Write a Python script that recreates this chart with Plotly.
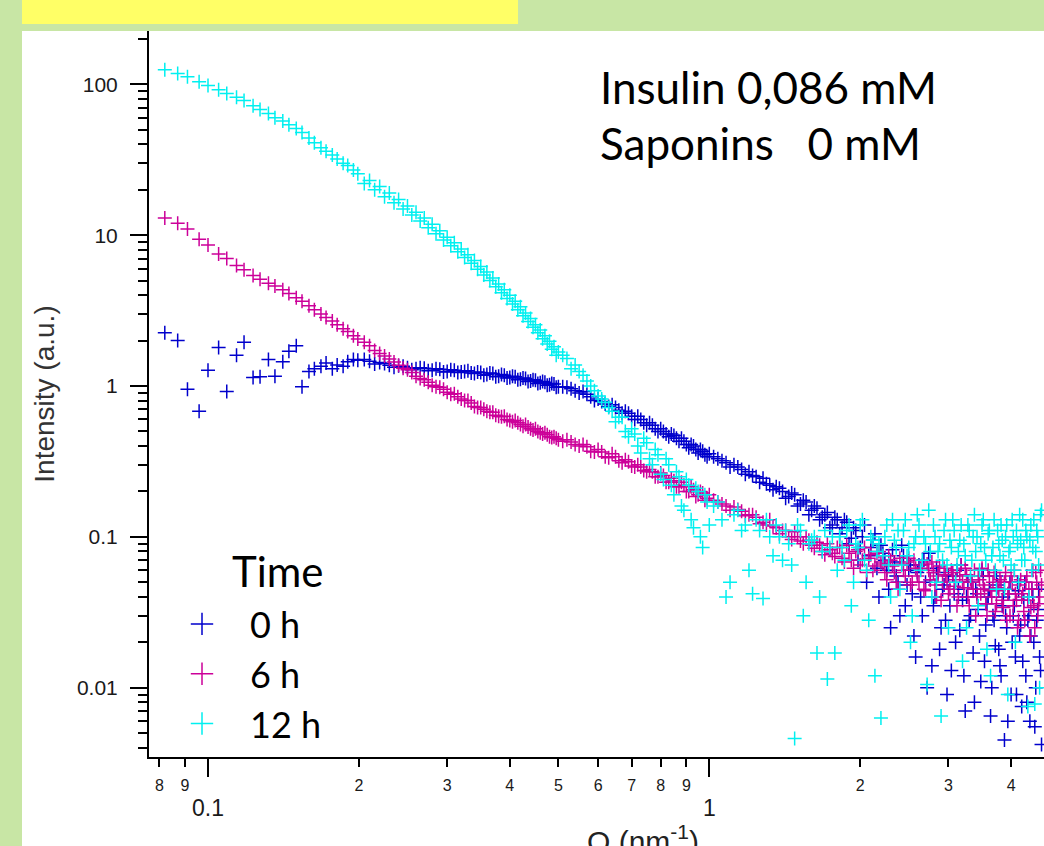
import plotly.graph_objects as go

# ---------------- data ----------------
q_nm = [
    0.082, 0.087, 0.091, 0.096, 0.100, 0.105, 0.109, 0.114, 0.118, 0.123,
    0.127, 0.132, 0.136, 0.141, 0.145, 0.150, 0.154, 0.159, 0.163, 0.168,
    0.172, 0.177, 0.181, 0.186, 0.190, 0.195, 0.199,
    0.21, 0.22, 0.23, 0.24, 0.25, 0.26, 0.27, 0.28, 0.29, 0.30,
    0.31, 0.32, 0.33, 0.34, 0.35, 0.36, 0.37, 0.38, 0.39, 0.40,
    0.41, 0.42, 0.43, 0.44, 0.45, 0.46, 0.47, 0.48, 0.49, 0.50,
    0.52, 0.54, 0.56, 0.58, 0.60, 0.62, 0.64, 0.66, 0.68, 0.70,
    0.72, 0.74, 0.76, 0.78, 0.80, 0.82, 0.84, 0.86, 0.88, 0.90,
    0.92, 0.94, 0.96, 0.98, 1.00,
    1.04, 1.08, 1.12, 1.16, 1.20, 1.24, 1.28, 1.32, 1.36, 1.40,
    1.44, 1.48, 1.52, 1.56, 1.60, 1.64, 1.68, 1.72, 1.76, 1.80,
    1.84, 1.88, 1.92, 1.96, 2.00, 2.04, 2.08, 2.12, 2.16, 2.20,
    2.24, 2.28, 2.32, 2.36, 2.40, 2.44, 2.48, 2.52, 2.56, 2.60,
    2.64, 2.68, 2.72, 2.76, 2.80, 2.84, 2.88, 2.92, 2.96, 3.00,
    3.04, 3.08, 3.12, 3.16, 3.20, 3.24, 3.28, 3.32, 3.36, 3.40,
    3.44, 3.48, 3.52, 3.56, 3.60, 3.64, 3.68, 3.72, 3.76, 3.80,
    3.84, 3.88, 3.92, 3.96, 4.00, 4.04, 4.08, 4.12, 4.16, 4.20,
    4.24, 4.28, 4.32, 4.36, 4.40, 4.44, 4.48, 4.52, 4.56, 4.60,
]

i_0h = [
    2.25, 2.0, 0.95, 0.68, 1.27, 1.8, 0.92, 1.6, 1.95, 1.14,
    1.15, 1.5, 1.16, 1.45, 1.7, 1.85, 0.99, 1.25, 1.3, 1.35,
    1.42, 1.3, 1.38, 1.35, 1.45, 1.5, 1.48,
    1.46, 1.43, 1.37, 1.36, 1.32, 1.30, 1.31, 1.27, 1.29, 1.25,
    1.27, 1.24, 1.26, 1.21, 1.23, 1.19, 1.21, 1.16, 1.18, 1.14,
    1.15, 1.11, 1.12, 1.08, 1.09, 1.05, 1.06, 1.02, 1.03, 0.99,
    0.98, 0.93, 0.92, 0.85, 0.82, 0.76, 0.75, 0.69, 0.68, 0.63,
    0.63, 0.57, 0.57, 0.52, 0.52, 0.48, 0.48, 0.45, 0.45, 0.41,
    0.41, 0.38, 0.38, 0.35, 0.355,
    0.33, 0.31, 0.30, 0.28, 0.27, 0.25, 0.245, 0.22, 0.215, 0.20,
    0.185, 0.19, 0.165, 0.17, 0.15, 0.155, 0.135, 0.145, 0.12, 0.13,
    0.115, 0.125, 0.098, 0.11, 0.085, 0.12, 0.075, 0.095, 0.062, 0.088,
    0.07, 0.045, 0.082, 0.055, 0.03, 0.075, 0.048, 0.065, 0.022, 0.058,
    0.04, 0.07, 0.01, 0.052, 0.035, 0.062, 0.018, 0.045, 0.028, 0.055,
    0.013, 0.042, 0.06, 0.024, 0.038, 0.007, 0.05, 0.03, 0.017, 0.045,
    0.033, 0.011, 0.055, 0.026, 0.04, 0.0065, 0.03, 0.019, 0.048, 0.014,
    0.035, 0.0045, 0.025, 0.042, 0.009, 0.03, 0.016, 0.05, 0.022, 0.0075,
    0.038, 0.012, 0.028, 0.006, 0.045, 0.02, 0.01, 0.033, 0.016, 0.0042,
]

i_6h = [
    13.0, 12.0, 11.0, 9.4, 8.6, 7.5, 7.0, 6.3, 5.9, 5.4,
    5.1, 4.8, 4.6, 4.35, 4.1, 3.85, 3.65, 3.4, 3.2, 3.0,
    2.85, 2.7, 2.55, 2.4, 2.3, 2.15, 2.05,
    1.85, 1.64, 1.51, 1.37, 1.28, 1.16, 1.10, 1.01, 0.98, 0.91,
    0.89, 0.82, 0.80, 0.73, 0.72, 0.68, 0.67, 0.63, 0.63, 0.59,
    0.59, 0.555, 0.555, 0.52, 0.52, 0.49, 0.49, 0.46, 0.46, 0.44,
    0.44, 0.41, 0.41, 0.37, 0.38, 0.34, 0.355, 0.32, 0.325, 0.295,
    0.30, 0.275, 0.28, 0.25, 0.265, 0.23, 0.245, 0.215, 0.23, 0.20,
    0.215, 0.185, 0.20, 0.175, 0.19,
    0.17, 0.16, 0.158, 0.148, 0.14, 0.135, 0.125, 0.13, 0.115, 0.11,
    0.10, 0.108, 0.094, 0.10, 0.088, 0.092, 0.08, 0.09, 0.078, 0.085,
    0.072, 0.088, 0.07, 0.08, 0.065, 0.085, 0.072, 0.06, 0.078, 0.068,
    0.058, 0.075, 0.064, 0.05, 0.072, 0.06, 0.068, 0.048, 0.07, 0.055,
    0.062, 0.045, 0.066, 0.052, 0.058, 0.04, 0.064, 0.05, 0.056, 0.042,
    0.06, 0.047, 0.035, 0.055, 0.05, 0.062, 0.04, 0.052, 0.045, 0.03,
    0.055, 0.042, 0.048, 0.036, 0.06, 0.044, 0.05, 0.032, 0.046, 0.052,
    0.038, 0.05, 0.028, 0.045, 0.055, 0.035, 0.042, 0.025, 0.048, 0.04,
    0.032, 0.05, 0.038, 0.022, 0.045, 0.035, 0.058, 0.03, 0.04, 0.048,
]

i_12h = [
    125, 118, 112, 104, 98, 92, 87, 82, 78, 72,
    68, 64, 60, 57, 54, 51, 48, 44, 41, 38,
    36, 34, 32, 30, 29, 27, 25.5,
    23, 21, 19, 17.2, 15.6, 14.2, 13.0, 11.8, 10.7, 9.7,
    8.9, 8.1, 7.4, 6.8, 6.2, 5.7, 5.2, 4.75, 4.35, 4.0,
    3.65, 3.35, 3.05, 2.8, 2.55, 2.35, 2.15, 1.98, 1.82, 1.68,
    1.52, 1.38, 1.18, 1.0, 0.86, 0.78, 0.68, 0.62, 0.50, 0.52,
    0.40, 0.45, 0.33, 0.38, 0.26, 0.33, 0.22, 0.27, 0.16, 0.24,
    0.13, 0.21, 0.10, 0.19, 0.12,
    0.17, 0.04, 0.14, 0.11, 0.06, 0.13, 0.039, 0.10, 0.12, 0.07,
    0.09, 0.0046, 0.11, 0.05, 0.095, 0.017, 0.08, 0.0114, 0.10, 0.06,
    0.085, 0.11, 0.035, 0.09, 0.12, 0.07, 0.028, 0.095, 0.08, 0.0063,
    0.1, 0.065, 0.13, 0.085, 0.045, 0.11, 0.075, 0.02, 0.09, 0.14,
    0.06, 0.1, 0.0105, 0.08, 0.12, 0.05, 0.09, 0.07, 0.13, 0.025,
    0.085, 0.11, 0.065, 0.095, 0.015, 0.075, 0.12, 0.055, 0.1, 0.08,
    0.035, 0.09, 0.13, 0.07, 0.105, 0.012, 0.085, 0.06, 0.11, 0.075,
    0.095, 0.045, 0.12, 0.08, 0.065, 0.1, 0.02, 0.09, 0.14, 0.07,
    0.085, 0.11, 0.0075, 0.095, 0.06, 0.13, 0.08, 0.1, 0.01, 0.15,
]

# additional points read between the ones above (the measured Q grid is dense)
q_nm_extra = [
    0.205, 0.215, 0.225, 0.235, 0.245, 0.255, 0.265, 0.275, 0.285, 0.295,
    0.305, 0.315, 0.325, 0.335, 0.345, 0.355, 0.365, 0.375, 0.385, 0.395,
    0.405, 0.415, 0.425, 0.435, 0.445, 0.455, 0.465, 0.475, 0.485, 0.495,
    0.51, 0.53, 0.55, 0.57, 0.59, 0.61, 0.63, 0.65, 0.67, 0.69,
    0.71, 0.73, 0.75, 0.77, 0.79, 0.81, 0.83, 0.85, 0.87, 0.89,
    0.91, 0.93, 0.95, 0.97, 0.99,
    1.02, 1.06, 1.10, 1.14, 1.18, 1.22, 1.26, 1.30, 1.34, 1.38,
    1.42, 1.46, 1.50, 1.54, 1.58, 1.62, 1.66, 1.70, 1.74, 1.78,
    1.82, 1.86, 1.90, 1.94, 1.98, 2.02, 2.06, 2.10, 2.14, 2.18,
    2.22, 2.26, 2.30, 2.34, 2.38, 2.42, 2.46, 2.50, 2.54, 2.58,
    2.62, 2.66, 2.70, 2.74, 2.78, 2.82, 2.86, 2.90, 2.94, 2.98,
    3.02, 3.06, 3.10, 3.14, 3.18, 3.22, 3.26, 3.30, 3.34, 3.38,
    3.42, 3.46, 3.50, 3.54, 3.58, 3.62, 3.66, 3.70, 3.74, 3.78,
    3.82, 3.86, 3.90, 3.94, 3.98, 4.02, 4.06, 4.10, 4.14, 4.18,
    4.22, 4.26, 4.30, 4.34, 4.38, 4.42, 4.46, 4.50, 4.54, 4.58,
]

i_0h_extra = [
    1.50, 1.40, 1.41, 1.33, 1.35, 1.28, 1.32, 1.26, 1.30, 1.24,
    1.28, 1.23, 1.25, 1.22, 1.24, 1.18, 1.22, 1.15, 1.19, 1.13,
    1.16, 1.10, 1.13, 1.07, 1.10, 1.04, 1.07, 1.01, 1.04, 0.98,
    0.99, 0.96, 0.90, 0.88, 0.80, 0.79, 0.73, 0.72, 0.66, 0.66,
    0.60, 0.60, 0.55, 0.55, 0.50, 0.50, 0.46, 0.47, 0.43, 0.43,
    0.39, 0.40, 0.36, 0.37, 0.34,
    0.34, 0.32, 0.29, 0.29, 0.26, 0.255, 0.23, 0.225, 0.205, 0.21,
    0.18, 0.195, 0.16, 0.175, 0.14, 0.16, 0.13, 0.14, 0.115, 0.135,
    0.105, 0.13, 0.09, 0.115, 0.07, 0.1, 0.05, 0.085, 0.105, 0.04,
    0.078, 0.06, 0.025, 0.068, 0.05, 0.088, 0.035, 0.06, 0.042, 0.016,
    0.065, 0.03, 0.05, 0.078, 0.014, 0.04, 0.058, 0.025, 0.048, 0.009,
    0.035, 0.055, 0.02, 0.045, 0.065, 0.012, 0.04, 0.028, 0.05, 0.008,
    0.042, 0.022, 0.06, 0.015, 0.036, 0.045, 0.01, 0.028, 0.055, 0.018,
    0.012, 0.04, 0.03, 0.006, 0.05, 0.02, 0.035, 0.009, 0.044, 0.026,
    0.015, 0.05, 0.008, 0.03, 0.022, 0.04, 0.0055, 0.028, 0.045, 0.013,
]

i_6h_extra = [
    1.95, 1.72, 1.58, 1.44, 1.31, 1.23, 1.12, 1.06, 0.99, 0.95,
    0.88, 0.85, 0.80, 0.77, 0.72, 0.70, 0.67, 0.64, 0.625, 0.60,
    0.58, 0.57, 0.54, 0.535, 0.51, 0.50, 0.48, 0.475, 0.455, 0.45,
    0.43, 0.425, 0.40, 0.395, 0.365, 0.365, 0.335, 0.34, 0.31, 0.315,
    0.29, 0.29, 0.27, 0.27, 0.25, 0.255, 0.23, 0.235, 0.215, 0.22,
    0.20, 0.205, 0.19, 0.195, 0.18,
    0.175, 0.165, 0.15, 0.152, 0.138, 0.14, 0.122, 0.12, 0.118, 0.105,
    0.11, 0.096, 0.1, 0.09, 0.095, 0.084, 0.088, 0.076, 0.082, 0.074,
    0.085, 0.068, 0.078, 0.062, 0.082, 0.07, 0.058, 0.076, 0.064, 0.08,
    0.066, 0.052, 0.07, 0.058, 0.045, 0.066, 0.055, 0.072, 0.05, 0.062,
    0.05, 0.065, 0.044, 0.06, 0.068, 0.048, 0.055, 0.038, 0.062, 0.05,
    0.045, 0.058, 0.052, 0.04, 0.065, 0.046, 0.056, 0.035, 0.05, 0.06,
    0.04, 0.052, 0.062, 0.045, 0.03, 0.055, 0.04, 0.058, 0.036, 0.044,
    0.05, 0.034, 0.058, 0.042, 0.03, 0.05, 0.06, 0.038, 0.028, 0.052,
    0.042, 0.028, 0.055, 0.045, 0.034, 0.06, 0.025, 0.05, 0.036, 0.06,
]

i_12h_extra = [
    22, 20, 18, 16.4, 14.9, 13.6, 12.4, 11.2, 10.2, 9.3,
    8.5, 7.75, 7.1, 6.5, 5.95, 5.45, 5.0, 4.55, 4.15, 3.8,
    3.5, 3.2, 2.92, 2.68, 2.45, 2.25, 2.06, 1.9, 1.75, 1.6,
    1.6, 1.3, 1.25, 1.08, 0.93, 0.82, 0.72, 0.58, 0.62, 0.46,
    0.48, 0.36, 0.42, 0.30, 0.35, 0.24, 0.30, 0.19, 0.25, 0.15,
    0.22, 0.115, 0.20, 0.085, 0.17,
    0.16, 0.13, 0.05, 0.15, 0.12, 0.042, 0.11, 0.13, 0.075, 0.1,
    0.11, 0.065, 0.12, 0.03, 0.09, 0.1, 0.04, 0.11, 0.085, 0.017,
    0.1, 0.07, 0.12, 0.05, 0.085, 0.13, 0.06, 0.1, 0.012, 0.09,
    0.075, 0.12, 0.04, 0.095, 0.11, 0.065, 0.13, 0.085, 0.03, 0.1,
    0.12, 0.07, 0.09, 0.15, 0.04, 0.1, 0.08, 0.0065, 0.11, 0.065,
    0.095, 0.13, 0.05, 0.08, 0.12, 0.09, 0.025, 0.11, 0.07, 0.14,
    0.1, 0.06, 0.12, 0.085, 0.018, 0.11, 0.075, 0.13, 0.045, 0.09,
    0.12, 0.07, 0.1, 0.009, 0.085, 0.13, 0.06, 0.11, 0.05, 0.095,
    0.13, 0.07, 0.1, 0.04, 0.12, 0.085, 0.0078, 0.11, 0.065, 0.14,
]

series_names = ["0 h", "6 h", "12 h"]
series_values = [i_0h + i_0h_extra, i_6h + i_6h_extra, i_12h + i_12h_extra]
series_colors = ["#0000cc", "#cc0099", "#00f0f0"]
q_all = q_nm + q_nm_extra

x_major_ticks = [0.1, 1]
x_major_labels = ["0.1", "1"]
x_minor_ticks = [0.08, 0.09, 0.2, 0.3, 0.4, 0.5, 0.6, 0.7, 0.8, 0.9, 2, 3, 4]
x_minor_labels = ["8", "9", "2", "3", "4", "5", "6", "7", "8", "9", "2", "3", "4"]
y_major_ticks = [0.01, 0.1, 1, 10, 100]
y_major_labels = ["0.01", "0.1", "1", "10", "100"]
y_minor_ticks = [
    0.004, 0.005, 0.006, 0.007, 0.008, 0.009,
    0.02, 0.03, 0.04, 0.05, 0.06, 0.07, 0.08, 0.09,
    0.2, 0.3, 0.4, 0.5, 0.6, 0.7, 0.8, 0.9,
    2, 3, 4, 5, 6, 7, 8, 9,
    20, 30, 40, 50, 60, 70, 80, 90,
    200,
]

# ---------------- figure ----------------
W, H = 1044, 846
ML, MR, MT, MB = 149, 0, 31, 89
PW, PH = W - ML - MR, H - MT - MB


def px(xp):
    return (xp - ML) / PW


def py(yp):
    return (H - MB - yp) / PH


fig = go.Figure()

for name, vals, col in zip(series_names, series_values, series_colors):
    fig.add_trace(go.Scatter(
        x=q_all, y=vals, mode="markers", name=name, showlegend=False,
        marker=dict(symbol="cross-thin", size=10, color=col,
                    line=dict(color=col, width=1.5)),
    ))

# legend entries (larger symbols, as in the picture)
for name, col in zip(series_names, series_colors):
    fig.add_trace(go.Scatter(
        x=[None], y=[None], mode="markers", name=name, xaxis="x2",
        marker=dict(symbol="cross-thin", size=16, color=col,
                    line=dict(color=col, width=1.5)),
    ))

XR = [-1.1177, 0.6677]
YR = [-2.4594, 2.3533]
tick_font_color = "#1a1a1a"

fig.update_layout(
    width=W, height=H,
    margin=dict(l=ML, r=MR, t=MT, b=MB, autoexpand=False),
    paper_bgcolor="#c8e6a5",
    plot_bgcolor="white",
    showlegend=True,
    xaxis=dict(
        type="log", range=XR, autorange=False,
        tickmode="array", tickvals=x_major_ticks, ticktext=x_major_labels,
        ticks="outside", ticklen=18, tickwidth=2, tickcolor="black",
        tickfont=dict(family="Arial", size=23, color=tick_font_color),
        ticklabelstandoff=11,
        showline=True, linecolor="black", linewidth=2, mirror=False,
        showgrid=False, zeroline=False,
    ),
    xaxis2=dict(
        type="log", range=XR, autorange=False, overlaying="x", anchor="y", side="bottom",
        tickmode="array", tickvals=x_minor_ticks, ticktext=x_minor_labels,
        ticks="outside", ticklen=9, tickwidth=1.5, tickcolor="black",
        tickfont=dict(family="Arial", size=16, color=tick_font_color),
        ticklabelstandoff=5,
        showline=False, showgrid=False, zeroline=False,
    ),
    yaxis=dict(
        type="log", range=YR, autorange=False,
        tickmode="array", tickvals=y_major_ticks, ticktext=y_major_labels,
        ticks="outside", ticklen=17, tickwidth=2, tickcolor="black",
        tickfont=dict(family="Arial", size=21, color=tick_font_color),
        ticklabelstandoff=8,
        minor=dict(tickmode="array", tickvals=y_minor_ticks, ticks="outside",
                   ticklen=9, tickwidth=1.5, tickcolor="black", showgrid=False),
        showline=True, linecolor="black", linewidth=2, mirror=False,
        showgrid=False, zeroline=False,
        title=dict(text="Intensity (a.u.)", standoff=14,
                   font=dict(family="Arial", size=28, color="#333333")),
    ),
    legend=dict(
        x=px(154), y=py(594), xanchor="left", yanchor="top",
        bgcolor="rgba(0,0,0,0)", borderwidth=0,
        itemwidth=86, tracegroupgap=0,
        font=dict(family="Lato", size=36, color="black"),
    ),
    shapes=[
        dict(type="rect", xref="paper", yref="paper", layer="below",
             x0=px(22), x1=1, y0=py(H), y1=1,
             fillcolor="white", line=dict(width=0)),
        dict(type="rect", xref="paper", yref="paper", layer="below",
             x0=px(22), x1=px(518), y0=py(24), y1=py(0),
             fillcolor="#ffff66", line=dict(width=0)),
    ],
    annotations=[
        dict(text="Insulin 0,086 mM", x=px(598), y=py(87), xref="paper", yref="paper",
             xanchor="left", yanchor="middle", showarrow=False,
             font=dict(family="Lato", size=44, color="black")),
        dict(text="Saponins&nbsp;&nbsp; 0 mM", x=px(598), y=py(143),
             xref="paper", yref="paper",
             xanchor="left", yanchor="middle", showarrow=False,
             font=dict(family="Lato", size=44, color="black")),
        dict(text="Time", x=px(230), y=py(571), xref="paper", yref="paper",
             xanchor="left", yanchor="middle", showarrow=False,
             font=dict(family="Lato", size=42, color="black")),
        dict(text="Q (nm<sup>-1</sup>)", x=px(643), y=py(818), xref="paper", yref="paper",
             xanchor="center", yanchor="top", showarrow=False,
             font=dict(family="Arial", size=30, color="#222222")),
    ],
)

fig.write_html("out.html", config={"displayModeBar": False},
               post_script="document.body.style.margin='0';")
